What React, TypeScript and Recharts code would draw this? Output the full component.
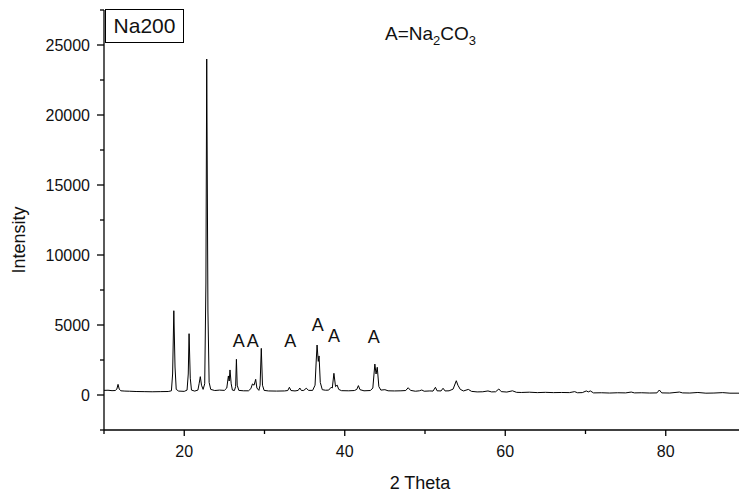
import { ComposedChart, Line, Scatter, XAxis, YAxis } from 'recharts';

// 2-theta / intensity pairs, split by region
const lowAngle: [number, number][] = [
  [10, 330], [10.5, 340], [11, 310], [11.4, 320], [11.6, 420], [11.75, 760], [11.9, 420], [12.1, 300],
  [12.6, 280], [13.2, 270], [14, 250], [15, 240], [16, 230], [17, 240], [18, 250], [18.4, 300],
  [18.55, 1500], [18.7, 6020], [18.85, 2000], [19.0, 400], [19.3, 280], [20.0, 260], [20.35, 350],
  [20.5, 1500], [20.6, 4380], [20.75, 1200], [20.9, 350], [21.3, 280], [21.7, 350], [21.85, 800],
  [22.0, 1310], [22.15, 700], [22.35, 400], [22.55, 800], [22.7, 8000], [22.8, 24000], [22.95, 6000],
  [23.1, 900], [23.3, 400], [23.8, 320], [24.4, 350], [25.0, 330],
];

const mainPeaks: [number, number][] = [
  [25.3, 500], [25.5, 1360], [25.6, 1000], [25.7, 1790], [25.85, 800], [26.0, 350], [26.25, 320],
  [26.4, 600], [26.5, 2550], [26.6, 700], [26.8, 330], [27.4, 300], [28.0, 300], [28.3, 450],
  [28.5, 790], [28.7, 700], [28.9, 1120], [29.05, 500], [29.3, 330], [29.45, 700], [29.6, 3330],
  [29.75, 700], [29.95, 330], [30.5, 290], [31.5, 280], [32.5, 290], [32.9, 320], [33.1, 550],
  [33.3, 320], [33.8, 290], [34.2, 330], [34.4, 500], [34.6, 320], [34.9, 330], [35.2, 480],
  [35.5, 330], [36.0, 330], [36.3, 700], [36.45, 2500], [36.55, 3570], [36.7, 2400], [36.8, 2790],
  [36.95, 900], [37.2, 380], [37.6, 340], [38.0, 350], [38.3, 550], [38.45, 500], [38.65, 1550],
  [38.85, 600], [39.05, 710], [39.25, 400], [39.6, 310], [40.5, 300], [41.2, 320], [41.5, 400],
  [41.7, 670], [41.9, 380], [42.4, 300], [43.2, 320], [43.5, 500], [43.75, 2210], [43.9, 1500],
  [44.05, 1980], [44.25, 600], [44.5, 350], [45.0, 380], [45.4, 300],
];

const midAngle: [number, number][] = [
  [46.2, 290], [47.0, 300], [47.6, 320], [47.9, 520], [48.2, 330], [48.8, 270], [49.3, 300],
  [49.6, 357], [49.9, 270], [50.6, 290], [51.0, 280], [51.3, 550], [51.5, 300], [52.0, 290],
  [52.25, 480], [52.5, 290], [53.0, 300], [53.5, 420], [53.9, 1020], [54.1, 700], [54.4, 400],
  [54.8, 290], [55.4, 400], [55.8, 260], [56.5, 220], [57.2, 230], [57.85, 290], [58.3, 220],
  [58.8, 230], [59.2, 430], [59.5, 240], [60.2, 210], [60.9, 300], [61.4, 190],
];

const highAngle: [number, number][] = [
  [62, 180], [63, 200], [64, 170], [65, 190], [66, 170], [67, 180], [68, 170], [68.65, 240],
  [69, 160], [69.6, 170], [70.1, 290], [70.35, 220], [70.6, 290], [71, 150], [72, 160], [73, 140],
  [74, 160], [75, 150], [75.7, 210], [76.1, 150], [77, 160], [78, 140], [78.9, 150], [79.2, 357],
  [79.5, 150], [80.5, 140], [81.7, 210], [82.1, 150], [83, 140], [84, 180], [85, 130], [86, 140],
  [87.1, 170], [88, 130], [89, 130], [90, 120],
];

// "A" (Na2CO3) peak markers
const markers: [number, number][] = [
  [26.8, 3850], [28.55, 3850], [33.2, 3850], [36.65, 5000], [38.65, 4200], [43.6, 4150],
];

const xTicks = [10, 20, 30, 40, 50, 60, 70, 80, 90];
const yTicks = [-2500, 0, 2500, 5000, 7500, 10000, 12500, 15000, 17500, 20000, 22500, 25000, 27500];

const pattern = [...lowAngle, ...mainPeaks, ...midAngle, ...highAngle].map(([x, y]) => ({ x, y }));
const markerData = markers.map(([x, y]) => ({ x, y }));

const FONT = '"Liberation Sans", Arial, sans-serif';

function YTick({ x, y, payload }: any) {
  const major = payload.value % 5000 === 0;
  return (
    <g>
      <line x1={x} x2={x - (major ? 7 : 4)} y1={y} y2={y} stroke="#000" strokeWidth={1.3} />
      {major && (
        <text x={x - 14} y={y} textAnchor="end" dominantBaseline="central" fontSize={16} fill="#111" fontFamily={FONT}>
          {payload.value}
        </text>
      )}
    </g>
  );
}

function XTick({ x, y, payload }: any) {
  const major = payload.value % 20 === 0;
  return (
    <g>
      <line x1={x} x2={x} y1={y} y2={y + (major ? 6 : 4)} stroke="#000" strokeWidth={1.3} />
      {major && (
        <text x={x} y={y + 21} textAnchor="middle" dominantBaseline="central" fontSize={16} fill="#111" fontFamily={FONT}>
          {payload.value}
        </text>
      )}
    </g>
  );
}

function MarkerLabel({ cx, cy }: any) {
  return (
    <text x={cx} y={cy} textAnchor="middle" dominantBaseline="central" fontSize={18} fill="#111" fontFamily={FONT}>
      A
    </text>
  );
}

export default function App() {
  return (
    <div style={{ position: 'absolute', left: 0, top: 0, width: 739, height: 494, overflow: 'hidden', background: '#fff', fontFamily: FONT }}>
      <ComposedChart width={760} height={494} margin={{ top: 10, right: 14, bottom: 34, left: 44 }}>
        <XAxis
          type="number"
          dataKey="x"
          domain={[10, 90]}
          ticks={xTicks}
          allowDataOverflow
          height={30}
          tickSize={0}
          tickMargin={0}
          tickLine={false}
          tick={<XTick />}
          axisLine={{ stroke: '#000', strokeWidth: 1.3 }}
        />
        <YAxis
          type="number"
          domain={[-2500, 27500]}
          ticks={yTicks}
          allowDataOverflow
          width={60}
          tickSize={0}
          tickMargin={0}
          tickLine={false}
          tick={<YTick />}
          axisLine={{ stroke: '#000', strokeWidth: 1.3 }}
        />
        <Line
          data={pattern}
          dataKey="y"
          type="linear"
          stroke="#000"
          strokeWidth={1}
          dot={false}
          activeDot={false}
          isAnimationActive={false}
        />
        <Scatter data={markerData} dataKey="y" shape={<MarkerLabel />} isAnimationActive={false} />
      </ComposedChart>

      <div
        style={{
          position: 'absolute', left: 105, top: 9, width: 77, height: 32, border: '1px solid #000',
          fontSize: 21, lineHeight: '32px', textAlign: 'center', color: '#111',
        }}
      >
        Na200
      </div>
      <div style={{ position: 'absolute', left: 385, top: 23, fontSize: 19, color: '#111', whiteSpace: 'nowrap' }}>
        A=Na<sub style={{ fontSize: 13 }}>2</sub>CO<sub style={{ fontSize: 13 }}>3</sub>
      </div>
      <div
        style={{
          position: 'absolute', left: 19, top: 240, fontSize: 18, color: '#111', whiteSpace: 'nowrap',
          transform: 'translate(-50%, -50%) rotate(-90deg)',
        }}
      >
        Intensity
      </div>
      <div
        style={{
          position: 'absolute', left: 420, top: 483, fontSize: 18, color: '#111', whiteSpace: 'nowrap',
          transform: 'translate(-50%, -50%)',
        }}
      >
        2 Theta
      </div>
    </div>
  );
}
